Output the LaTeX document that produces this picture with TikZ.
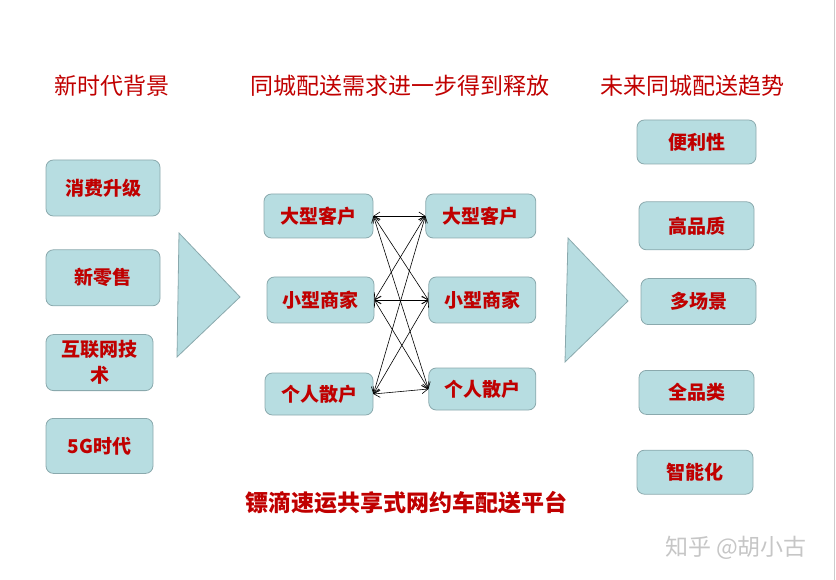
\documentclass[tikz,border=0pt]{standalone}
\usepackage{fontspec}
\newfontfamily\cjk{Noto Sans CJK SC}
\usepackage{xcolor}
\usetikzlibrary{arrows.meta,positioning}
\definecolor{qianlan}{HTML}{B7DDE1}
\definecolor{biankuang}{HTML}{8AA9AD}
\definecolor{shenhong}{HTML}{C00000}
\tikzset{
  kuang/.style={rectangle,rounded corners=2.6mm,draw=biankuang,fill=qianlan,line width=0.8pt,
    minimum width=114pt,minimum height=56pt,align=center,inner sep=1pt,
    text=shenhong,font=\cjk\bfseries\fontsize{19}{26}\selectfont},
  biaoti/.style={text=shenhong,inner sep=1pt,font=\cjk\fontsize{23}{27}\selectfont},
  sanjiao/.style={draw=biankuang,fill=qianlan,line width=0.8pt},
  shuangxiang/.style={{Straight Barb[length=6pt,width=8pt]}-{Straight Barb[length=6pt,width=8pt]},
    draw=black,line width=0.6pt}
}
\begin{document}
\begin{tikzpicture}[x=1pt,y=-1pt]
\useasboundingbox (0,0) rectangle (836,580);
\draw[gray!40,line width=1.2pt] (834.5,0) -- (834.5,580);
% titles
\node[biaoti] (bj) at (112,86) {新时代背景};
\node[biaoti] (xq) at (400,86) {同城配送需求进一步得到释放};
\node[biaoti] (qs) at (692,86) {未来同城配送趋势};
% left column
\node[kuang] (xf) at (103,188) {消费升级};
\node[kuang,below=33pt of xf] (xls) {新零售};
\node[kuang,minimum width=107pt,below=28pt of xls.south west,anchor=north west] (hlw) {互联网技\\术};
\node[kuang,minimum width=107pt,minimum height=55pt,below=27pt of hlw] (wg) {5G时代};
\draw[sanjiao] (179,233) -- (240,297) -- (177,357) -- cycle;
% middle
\node[kuang,minimum width=109pt,minimum height=44pt] (lDa) at (318.5,216) {大型客户};
\node[kuang,minimum width=110pt,minimum height=44pt,right=52pt of lDa] (rDa) {大型客户};
\node[kuang,minimum width=107pt,minimum height=46pt] (lXi) at (320.5,300) {小型商家};
\node[kuang,minimum width=107pt,minimum height=46pt,right=54pt of lXi] (rXi) {小型商家};
\node[kuang,minimum width=108pt,minimum height=42pt] (lGe) at (319,394) {个人散户};
\node[kuang,minimum width=107pt,minimum height=42pt,right=55pt of lGe,yshift=5pt] (rGe) {个人散户};
\foreach \z in {lDa,lXi,lGe}
  \foreach \y in {rDa,rXi,rGe}
    \draw[shuangxiang] (\z.east) -- (\y.west);
% right column
\draw[sanjiao] (568,238) -- (628,301) -- (565,362) -- cycle;
\node[kuang,minimum width=119pt,minimum height=44pt] (bl) at (696.5,142) {便利性};
\node[kuang,minimum width=115pt,minimum height=48pt,below=37pt of bl] (gp) {高品质};
\node[kuang,minimum width=115pt,minimum height=46pt,below=28pt of gp,xshift=2pt] (dc) {多场景};
\node[kuang,minimum width=115pt,minimum height=44pt,below=45pt of dc,xshift=-2pt] (qp) {全品类};
\node[kuang,minimum width=116pt,minimum height=44pt,below=35pt of qp,xshift=-1.5pt] (zn) {智能化};
% bottom
\node[biaoti,font=\cjk\bfseries\fontsize{23}{27}\selectfont] (pt) at (406,503) {镖滴速运共享式网约车配送平台};
\node[text=gray!45,font=\cjk\fontsize{23}{26}\selectfont] (sy) at (736,548) {知乎 @胡小古};
\end{tikzpicture}
\end{document}
